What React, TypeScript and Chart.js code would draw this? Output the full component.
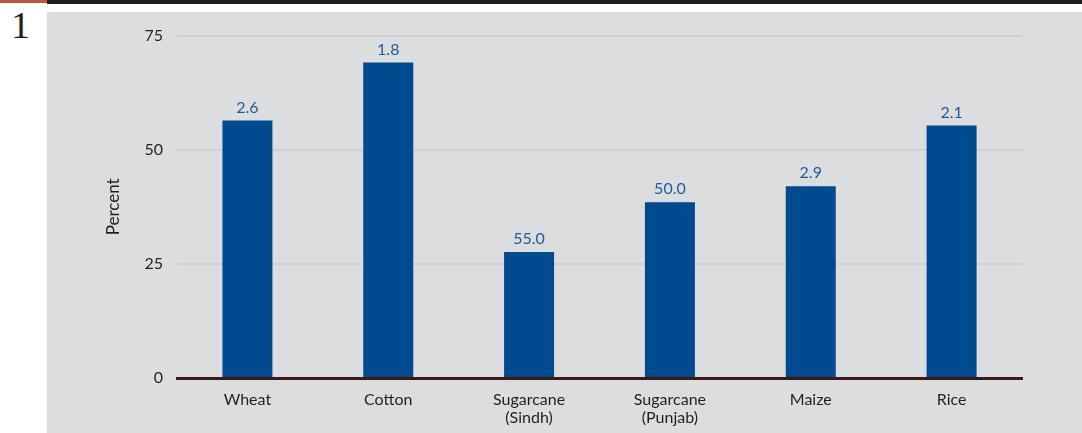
import React, { useEffect, useRef } from "react";
import { Chart, registerables } from "chart.js";

Chart.register(...registerables);

const categories: (string | string[])[] = [
  "Wheat",
  "Cotton",
  ["Sugarcane", "(Sindh)"],
  ["Sugarcane", "(Punjab)"],
  "Maize",
  "Rice",
];
const percentValues = [56.4, 69.1, 27.6, 38.5, 42.0, 55.3];
const barLabels = ["2.6", "1.8", "55.0", "50.0", "2.9", "2.1"];
const yTicks = [0, 25, 50, 75];

const FONT = "Lato, 'Open Sans', sans-serif";

const barLabelPlugin = {
  id: "barLabels",
  afterDatasetsDraw(chart: any) {
    const ctx = chart.ctx;
    const meta = chart.getDatasetMeta(0);
    ctx.save();
    ctx.font = `16px ${FONT}`;
    ctx.fillStyle = "#1f5a9e";
    ctx.textAlign = "center";
    ctx.textBaseline = "bottom";
    meta.data.forEach((el: any, i: number) => {
      ctx.fillText(barLabels[i], el.x, el.y - 5);
    });
    ctx.restore();
  },
};

export default function App() {
  const canvasRef = useRef<HTMLCanvasElement | null>(null);

  useEffect(() => {
    document.body.style.margin = "0";
    const canvas = canvasRef.current;
    if (!canvas) return;
    const chart = new Chart(canvas, {
      type: "bar",
      data: {
        labels: categories,
        datasets: [
          {
            data: percentValues,
            backgroundColor: "#004a8f",
            barPercentage: 0.355,
            categoryPercentage: 1,
          },
        ],
      },
      options: {
        animation: false,
        responsive: false,
        maintainAspectRatio: false,
        layout: { padding: { left: 52, right: 60, top: 23, bottom: 0 } },
        plugins: {
          legend: { display: false },
          tooltip: { enabled: false },
        },
        scales: {
          x: {
            grid: { display: false, drawTicks: false },
            border: { display: true, color: "#3a1a12", width: 3 },
            ticks: {
              color: "#231f20",
              font: { family: FONT, size: 16, lineHeight: 1.1 },
              padding: 13,
              maxRotation: 0,
              autoSkip: false,
            },
            afterFit: (scale: any) => {
              scale.height = 55;
            },
          },
          y: {
            min: 0,
            max: 75,
            afterBuildTicks: (scale: any) => {
              scale.ticks = yTicks.map((v) => ({ value: v }));
            },
            grid: { color: "#cfd0d2", lineWidth: 2, drawTicks: false },
            border: { display: false },
            ticks: {
              color: "#231f20",
              font: { family: FONT, size: 16 },
              padding: 14,
            },
            title: {
              display: true,
              text: "Percent",
              color: "#231f20",
              font: { family: FONT, size: 17 },
              padding: { top: 4, bottom: 4 },
            },
            afterFit: (scale: any) => {
              scale.width = 78;
            },
          },
        },
      },
      plugins: [barLabelPlugin],
    });
    return () => chart.destroy();
  }, []);

  return (
    <div style={{ position: "relative", width: 1082, height: 433, background: "#ffffff", overflow: "hidden" }}>
      <div style={{ position: "absolute", left: 0, top: 0, width: 47, height: 3, background: "#c0553a" }} />
      <div style={{ position: "absolute", left: 47, top: 0, width: 1035, height: 4, background: "#231f20" }} />
      <div
        style={{
          position: "absolute",
          left: 11,
          top: 6,
          fontFamily: "'Liberation Serif', serif",
          fontSize: 38,
          lineHeight: "38px",
          color: "#231f20",
        }}
      >
        1
      </div>
      <div style={{ position: "absolute", left: 47, top: 12, width: 1035, height: 421, background: "#dcdddf" }}>
        <canvas ref={canvasRef} width={1035} height={421} style={{ display: "block" }} />
      </div>
    </div>
  );
}
